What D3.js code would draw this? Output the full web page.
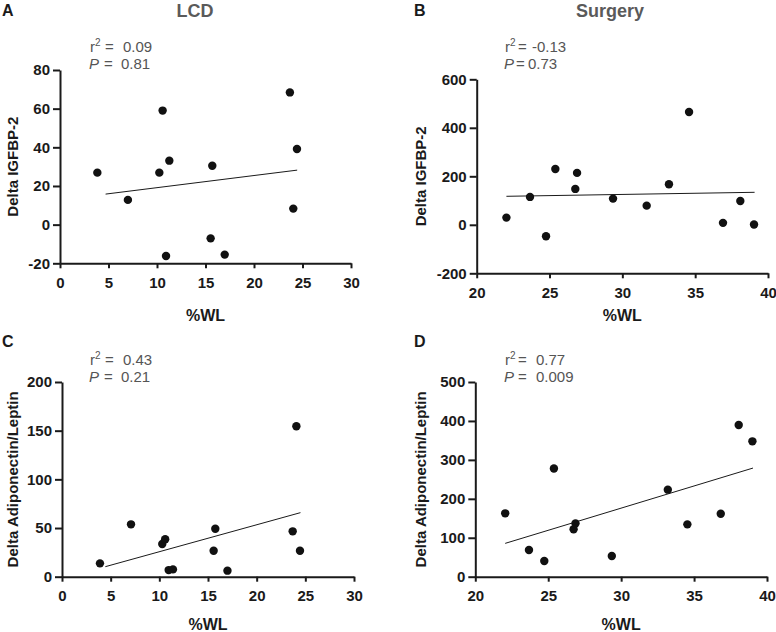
<!DOCTYPE html>
<html><head><meta charset="utf-8">
<script src="https://cdn.jsdelivr.net/npm/d3@7/dist/d3.min.js"></script>
<style>
body{margin:0;background:#fff;}
text{font-family:"Liberation Sans",Arial,sans-serif;}
</style></head>
<body><svg id="c" width="776" height="632"></svg>
<script>
// Panel A: LCD, Delta IGFBP-2
const lcdWL_A   = [3.85, 7.0, 10.24, 10.58, 11.27, 10.93, 15.7, 15.53, 16.98, 23.7, 24.43, 24.05];
const lcdIGFBP2 = [26.9, 12.8, 26.9, 59.0, 33.1, -16.2, 30.5, -7.1, -15.5, 68.4, 39.1, 8.3];
const fitA_x = [4.7, 24.45], fitA_y = [15.8, 28.2];
// Panel B: Surgery, Delta IGFBP-2
const surWL_B   = [22.04, 23.66, 24.76, 25.4, 26.77, 26.89, 29.36, 31.67, 33.2, 34.58, 36.91, 38.1, 39.04];
const surIGFBP2 = [29.6, 115, -47, 230, 148, 214, 108, 79, 167, 465, 8, 98, 1];
const fitB_x = [22.04, 39.08], fitB_y = [117.5, 134];
// Panel C: LCD, Delta Adiponectin/Leptin
const lcdWL_C   = [3.9, 7.09, 10.3, 10.6, 10.96, 11.4, 15.58, 15.75, 17.0, 23.7, 24.08, 24.45];
const lcdAdipo  = [13.7, 53.8, 33.6, 38.4, 6.8, 7.5, 26.7, 49.3, 6.2, 46.6, 154.5, 26.7];
const fitC_x = [4.45, 24.5], fitC_y = [10.3, 65.8];
// Panel D: Surgery, Delta Adiponectin/Leptin
const surWL_D   = [22.05, 23.68, 24.73, 25.39, 26.74, 26.87, 29.36, 33.2, 34.54, 36.83, 38.06, 39.0];
const surAdipo  = [162.7, 68.5, 40.2, 278, 122, 137, 53, 223.5, 134.4, 161.8, 389.6, 347.6];
const fitD_x = [22.05, 39.04], fitD_y = [85.6, 279];

const ticksA_x = [0,5,10,15,20,25,30], ticksA_y = [-20,0,20,40,60,80];
const ticksB_x = [20,25,30,35,40],     ticksB_y = [-200,0,200,400,600];
const ticksC_x = [0,5,10,15,20,25,30], ticksC_y = [0,50,100,150,200];
const ticksD_x = [20,25,30,35,40],     ticksD_y = [0,100,200,300,400,500];

const statsR2 = ["0.09", "-0.13", "0.43", "0.77"];
const statsP  = ["0.81", "0.73", "0.21", "0.009"];

const panels = [
 {letter:"A", title:"LCD", xs:lcdWL_A, ys:lcdIGFBP2, fx:fitA_x, fy:fitA_y, tx:ticksA_x, ty:ticksA_y,
  xr:[60,351], yr:[263.3,70], ylab:"Delta IGFBP-2",
  lx:2, ly:16, tcx:195, ax:90, ay:52, eq:[15,14], val:[33,31], ylx:18, xly:321},
 {letter:"B", title:"Surgery", xs:surWL_B, ys:surIGFBP2, fx:fitB_x, fy:fitB_y, tx:ticksB_x, ty:ticksB_y,
  xr:[476.7,768], yr:[273.3,79.3], ylab:"Delta IGFBP-2",
  lx:414, ly:16, tcx:610, ax:505, ay:52, eq:[13,11], val:[27,23], ylx:426, xly:321},
 {letter:"C", title:"", xs:lcdWL_C, ys:lcdAdipo, fx:fitC_x, fy:fitC_y, tx:ticksC_x, ty:ticksC_y,
  xr:[62,354], yr:[576.7,382], ylab:"Delta Adiponectin/Leptin",
  lx:2, ly:347, tcx:0, ax:90, ay:365, eq:[15,14], val:[33,31], ylx:18, xly:630},
 {letter:"D", title:"", xs:surWL_D, ys:surAdipo, fx:fitD_x, fy:fitD_y, tx:ticksD_x, ty:ticksD_y,
  xr:[475.3,767], yr:[576.7,382], ylab:"Delta Adiponectin/Leptin",
  lx:414, ly:347, tcx:0, ax:505, ay:365, eq:[13,13], val:[31,31], ylx:426, xly:630}
];

const svg = d3.select("#c");
const ink = "#1a1a1a", gray = "#555";

panels.forEach((p,pi) => {
  const x = d3.scaleLinear().domain([p.tx[0], p.tx[p.tx.length-1]]).range(p.xr);
  const y = d3.scaleLinear().domain([p.ty[0], p.ty[p.ty.length-1]]).range(p.yr);
  const g = svg.append("g");
  const fmt = d => String(d);

  const xa = g.append("g").attr("transform",`translate(0,${p.yr[0]})`)
    .call(d3.axisBottom(x).tickValues(p.tx).tickFormat(fmt).tickSize(5).tickSizeOuter(0).tickPadding(9));
  const ya = g.append("g").attr("transform",`translate(${p.xr[0]},0)`)
    .call(d3.axisLeft(y).tickValues(p.ty).tickFormat(fmt).tickSize(7).tickSizeOuter(0).tickPadding(3));
  [xa,ya].forEach(a=>{
    a.select(".domain").attr("stroke",ink).attr("stroke-width",2);
    a.selectAll(".tick line").attr("stroke",ink).attr("stroke-width",2);
    a.selectAll(".tick text").attr("fill",ink).style("font-size","15px").style("font-weight","bold")
      .style("font-family","'Liberation Sans',Arial,sans-serif");
  });

  g.append("line").attr("x1",x(p.fx[0])).attr("y1",y(p.fy[0]))
    .attr("x2",x(p.fx[1])).attr("y2",y(p.fy[1])).attr("stroke",ink).attr("stroke-width",1);

  g.selectAll("circle.pt").data(p.xs.map((v,i)=>[v,p.ys[i]])).enter().append("circle")
    .attr("cx",d=>x(d[0])).attr("cy",d=>y(d[1])).attr("r",4.2).attr("fill","#111");

  g.append("text").attr("x",(p.xr[0]+p.xr[1])/2).attr("y",p.xly).attr("text-anchor","middle")
    .style("font-size","16px").style("font-weight","bold").attr("fill",ink).text("%WL");
  g.append("text").attr("transform",`translate(${p.ylx},${(p.yr[0]+p.yr[1])/2}) rotate(-90)`)
    .attr("text-anchor","middle").style("font-size","15px").style("font-weight","bold")
    .attr("fill",ink).text(p.ylab);
  g.append("text").attr("x",p.lx).attr("y",p.ly).style("font-size","16px").style("font-weight","bold")
    .attr("fill",ink).text(p.letter);
  if (p.title) g.append("text").attr("x",p.tcx).attr("y",p.ly+1).attr("text-anchor","middle")
    .style("font-size","18px").style("font-weight","bold").attr("fill","#5a5a5a").text(p.title);

  // annotation
  const t1 = g.append("text").attr("x",p.ax).attr("y",p.ay).attr("fill",gray).style("font-size","15px");
  t1.append("tspan").text("r");
  t1.append("tspan").attr("dy",-6).style("font-size","10px").text("2");
  g.append("text").attr("x",p.ax+p.eq[0]).attr("y",p.ay).attr("fill",gray).style("font-size","15px").text("=");
  g.append("text").attr("x",p.ax+p.val[0]).attr("y",p.ay).attr("fill",gray).style("font-size","15px").text(statsR2[pi]);
  g.append("text").attr("x",p.ax-1).attr("y",p.ay+17).attr("fill",gray).style("font-size","15px")
    .style("font-style","italic").text("P");
  g.append("text").attr("x",p.ax+p.eq[1]).attr("y",p.ay+17).attr("fill",gray).style("font-size","15px").text("=");
  g.append("text").attr("x",p.ax+p.val[1]).attr("y",p.ay+17).attr("fill",gray).style("font-size","15px").text(statsP[pi]);
});
</script></body></html>
